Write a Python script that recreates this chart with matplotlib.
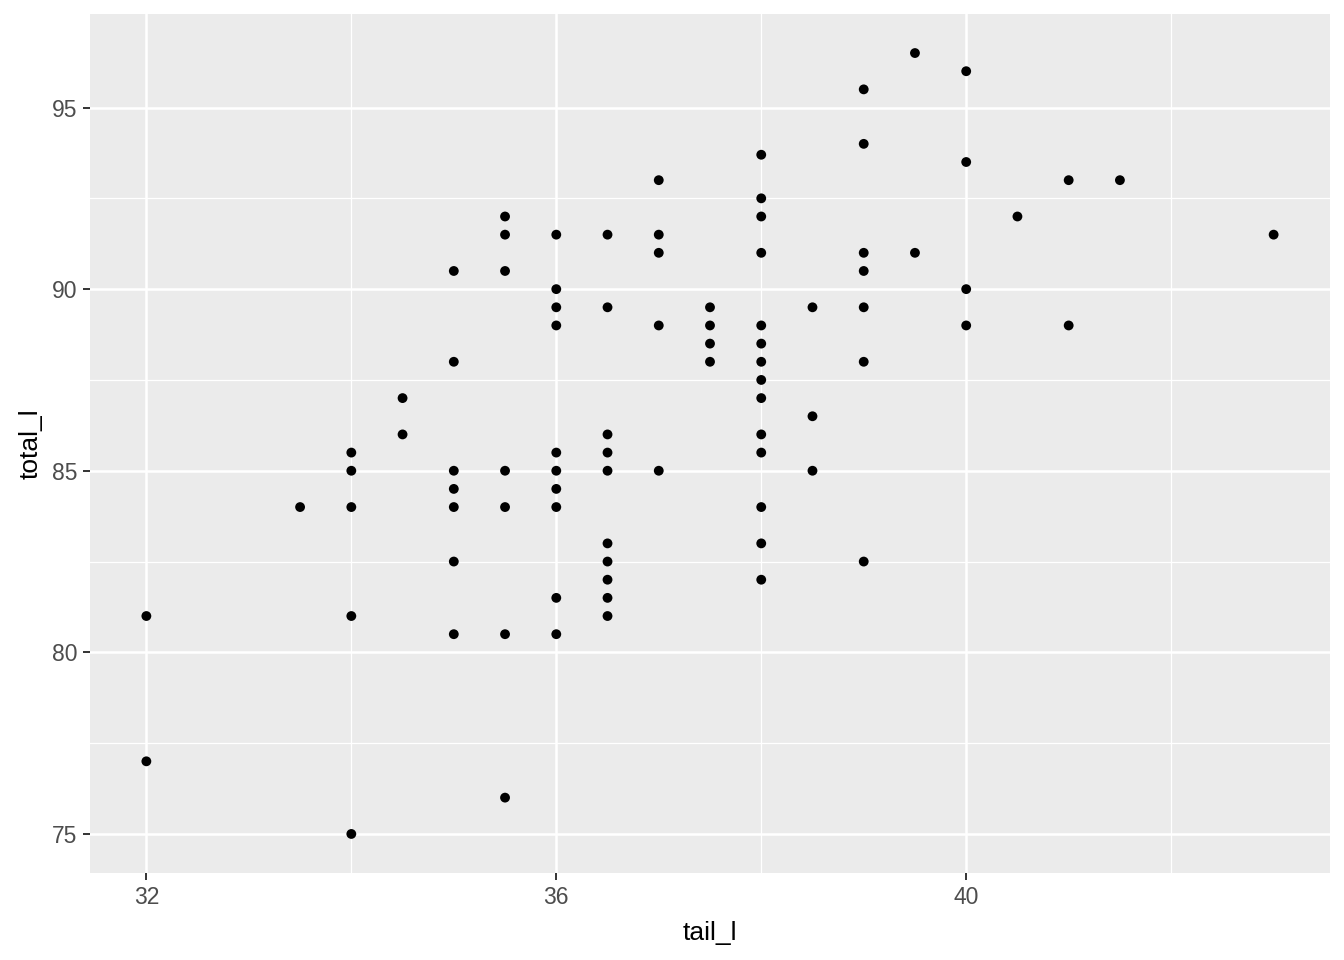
import matplotlib
matplotlib.use("Agg")
import matplotlib.pyplot as plt

plt.rcParams["font.family"] = ["Liberation Sans", "DejaVu Sans"]

# tail length vs total length (one entry per point)
tail_l = (
    [32, 32]
    + [33.5]
    + [34] * 5
    + [34.5] * 2
    + [35] * 7
    + [35.5] * 7
    + [36] * 10
    + [36.5] * 10
    + [37] * 5
    + [37.5] * 4
    + [38] * 14
    + [38.5] * 3
    + [39] * 7
    + [39.5] * 2
    + [40] * 4
    + [40.5]
    + [41] * 2
    + [41.5]
    + [43]
)
total_l = (
    [81, 77]
    + [84]
    + [85.5, 85, 84, 81, 75]
    + [87, 86]
    + [90.5, 88, 85, 84.5, 84, 82.5, 80.5]
    + [92, 91.5, 90.5, 85, 84, 80.5, 76]
    + [91.5, 90, 89.5, 89, 85.5, 85, 84.5, 84, 81.5, 80.5]
    + [91.5, 89.5, 86, 85.5, 85, 83, 82.5, 82, 81.5, 81]
    + [93, 91.5, 91, 89, 85]
    + [89.5, 89, 88.5, 88]
    + [93.7, 92.5, 92, 91, 89, 88.5, 88, 87.5, 87, 86, 85.5, 84, 83, 82]
    + [89.5, 86.5, 85]
    + [95.5, 94, 91, 90.5, 89.5, 88, 82.5]
    + [96.5, 91]
    + [96, 93.5, 90, 89]
    + [92]
    + [93, 89]
    + [93]
    + [91.5]
)

x_major = [32, 36, 40]
x_minor = [34, 38, 42]
y_major = [75, 80, 85, 90, 95]
y_minor = [77.5, 82.5, 87.5, 92.5]

fig = plt.figure(figsize=(13.44, 9.6), dpi=100)
ax = fig.add_axes([90 / 1344, 1 - 873 / 960, 1240 / 1344, 859 / 960])
ax.set_facecolor("#EBEBEB")
for s in ax.spines.values():
    s.set_visible(False)

# grid
for v in x_minor:
    ax.axvline(v, color="white", lw=0.9, zorder=0)
for v in y_minor:
    ax.axhline(v, color="white", lw=0.9, zorder=0)
for v in x_major:
    ax.axvline(v, color="white", lw=1.8, zorder=0)
for v in y_major:
    ax.axhline(v, color="white", lw=1.8, zorder=0)

ax.scatter(tail_l, total_l, s=50, color="black", edgecolors="none", zorder=3)

xr = max(tail_l) - min(tail_l)
yr = max(total_l) - min(total_l)
ax.set_xlim(min(tail_l) - 0.05 * xr, max(tail_l) + 0.05 * xr)
ax.set_ylim(min(total_l) - 0.05 * yr, max(total_l) + 0.05 * yr)

ax.set_xticks(x_major)
ax.set_yticks(y_major)
ax.tick_params(colors="#333333", labelcolor="#4D4D4D", labelsize=16.5,
               length=5, width=1.4, pad=4)
ax.set_xlabel("tail_l", fontsize=19, labelpad=9)
ax.set_ylabel("total_l", fontsize=19, labelpad=7)

fig.savefig("out.png", dpi=100)
